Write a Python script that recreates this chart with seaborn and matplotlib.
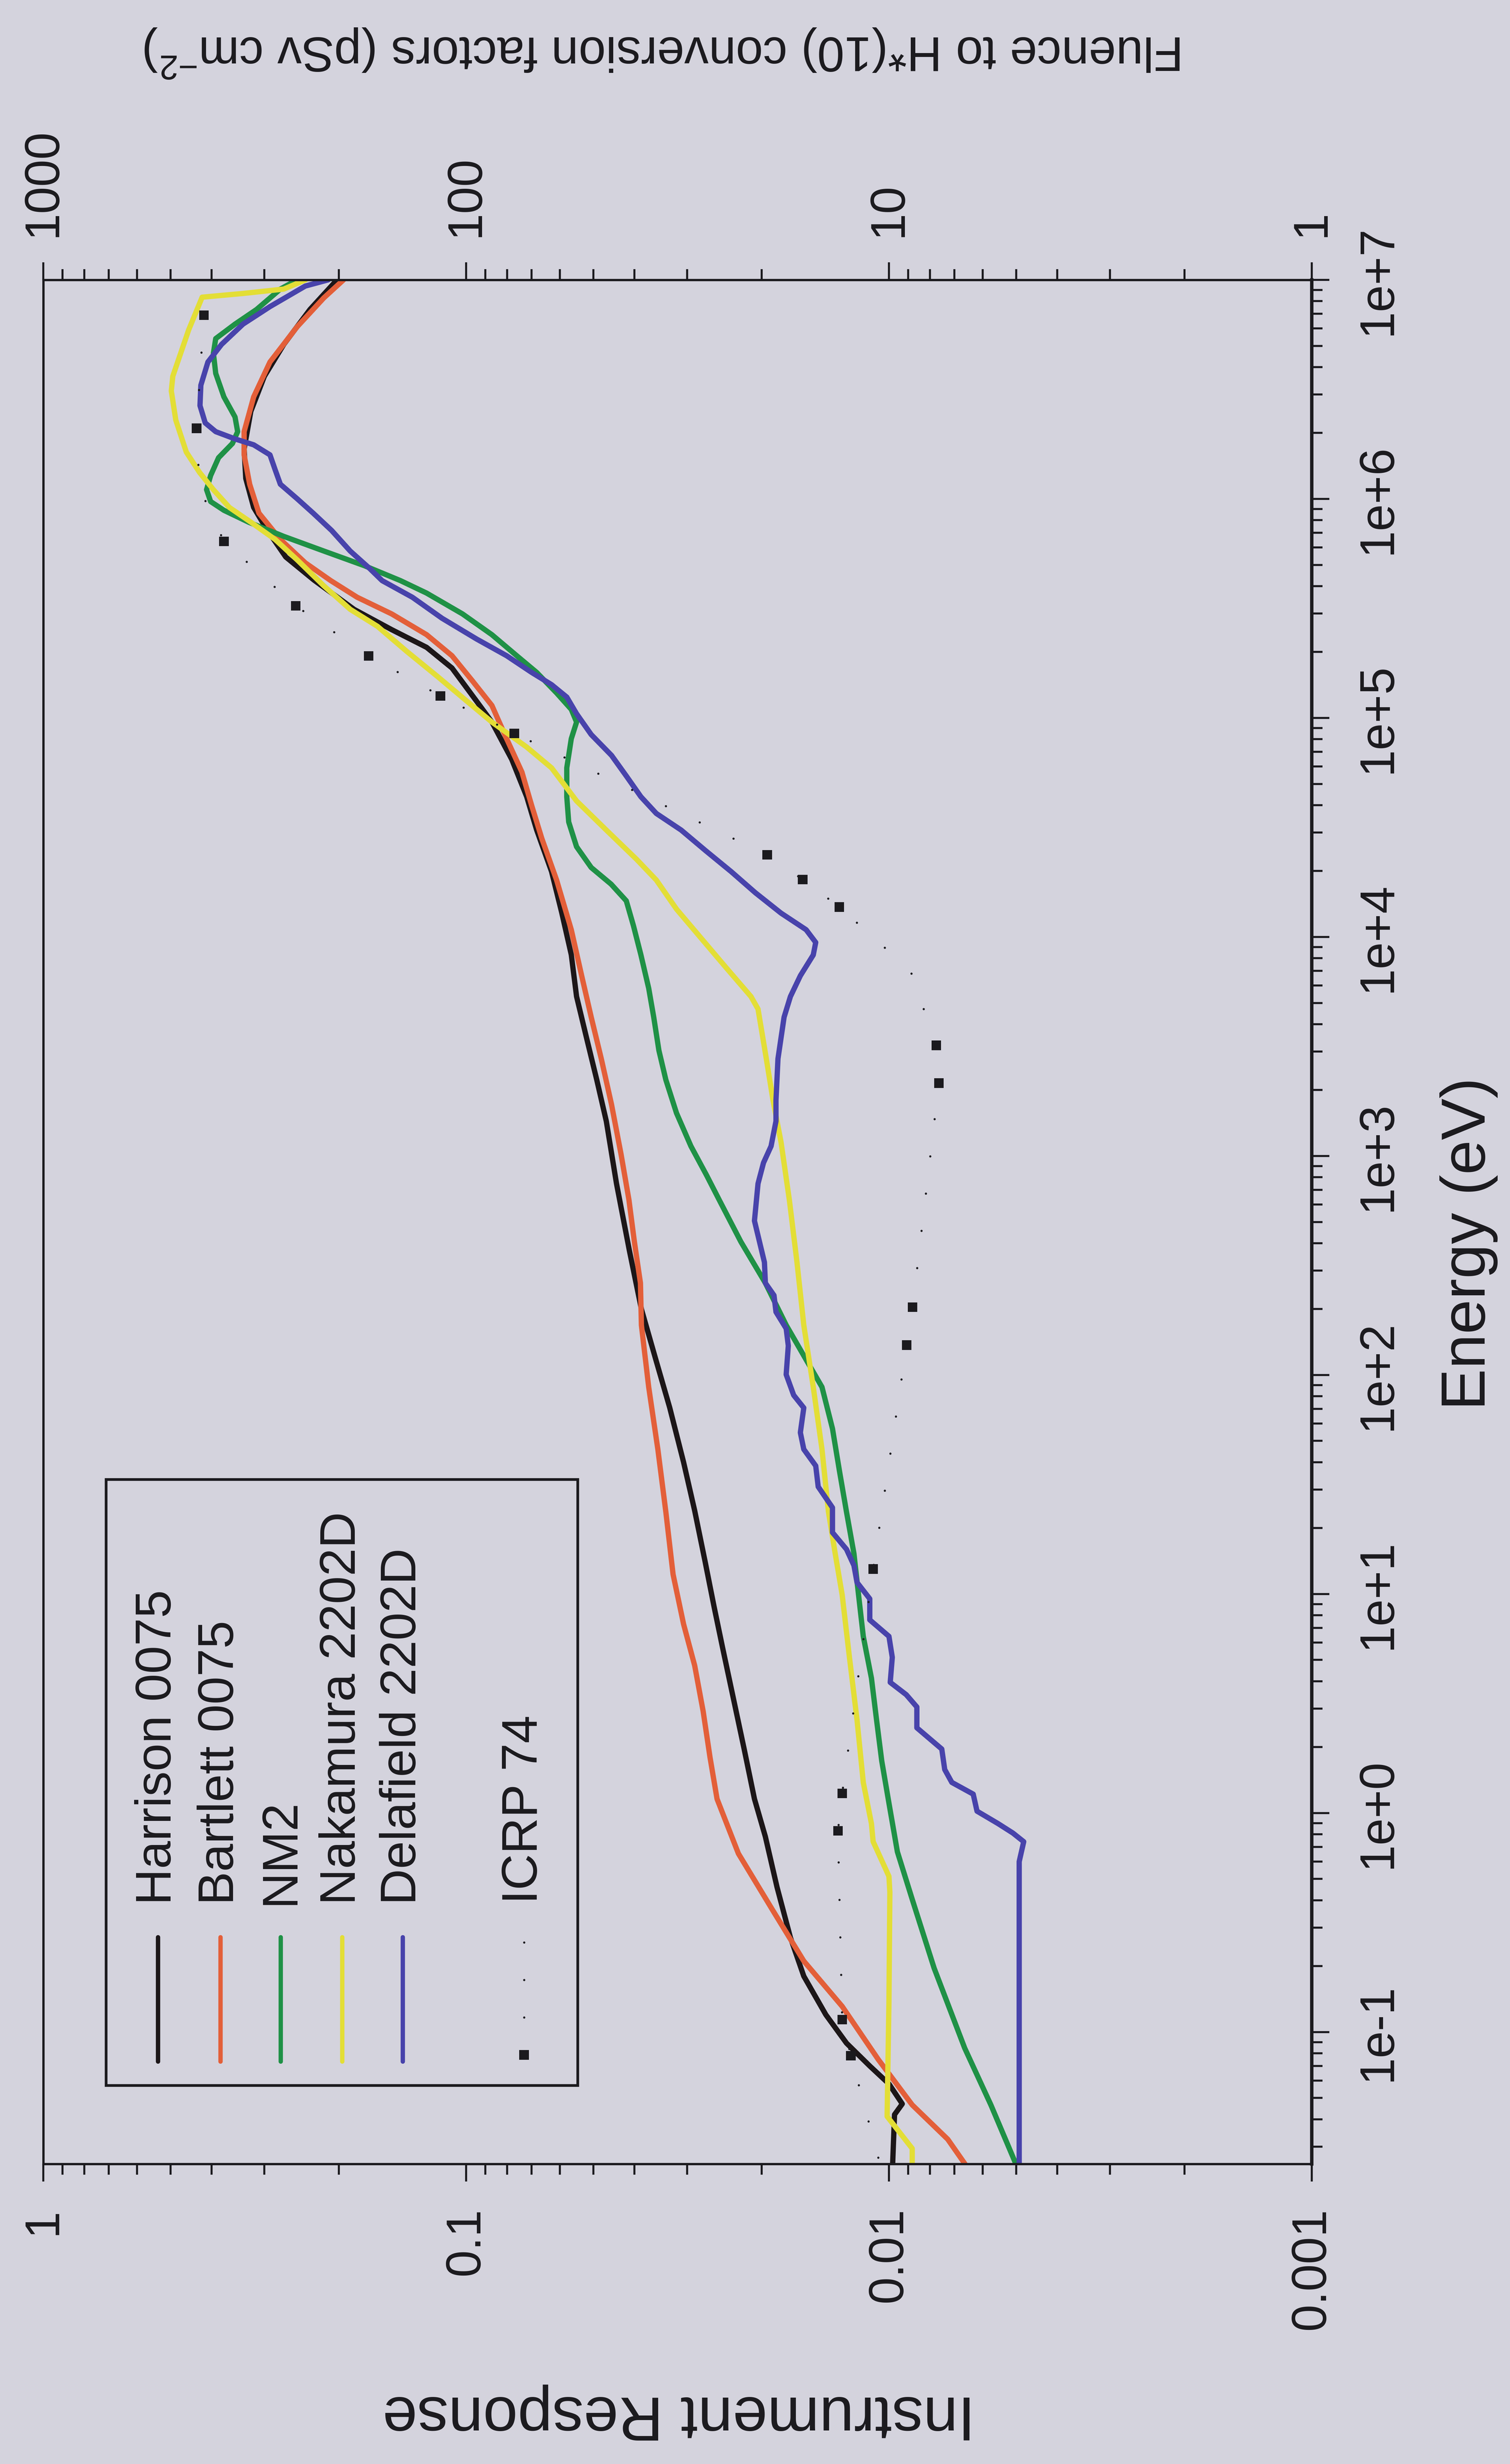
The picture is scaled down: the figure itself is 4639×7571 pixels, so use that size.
import numpy as np
import pandas as pd
import matplotlib
matplotlib.use("Agg")
import matplotlib.pyplot as plt
from matplotlib.ticker import FixedLocator, FuncFormatter, NullFormatter
from matplotlib.lines import Line2D
from matplotlib.patches import Rectangle
import seaborn as sns

# ---- data (energy in eV, response dimensionless) ----
harrison_energy = [0.025, 0.042, 0.047, 0.058, 0.07, 0.089, 0.12, 0.18, 0.27, 0.46,
                   0.78, 1.16, 1.96, 3.3, 5.6, 8.7, 14, 24, 40, 71,
                   120, 200, 370, 750, 1440, 2230, 3460, 5350, 8300, 12900,
                   19900, 30800, 43700, 64700, 95700, 119000, 169000, 210000, 253000, 313000,
                   426000, 543000, 718000, 914000, 1.24e6, 1.69e6, 2.51e6, 3.63e6, 5.07e6, 7.33e6,
                   1e7]
harrison_response = [0.0098, 0.0097, 0.0093, 0.0100, 0.0111, 0.0126, 0.0141, 0.0159, 0.0171, 0.0184,
                     0.0196, 0.0208, 0.0220, 0.0233, 0.0247, 0.0259, 0.0272, 0.0288, 0.0306, 0.0330,
                     0.0357, 0.0385, 0.0411, 0.0441, 0.0466, 0.0491, 0.0519, 0.0548, 0.0564, 0.0594,
                     0.0628, 0.0681, 0.0719, 0.0780, 0.0869, 0.0944, 0.108, 0.124, 0.150, 0.184,
                     0.229, 0.267, 0.295, 0.318, 0.332, 0.335, 0.323, 0.300, 0.270, 0.234,
                     0.202]

bartlett_energy = [0.025, 0.0324, 0.0465, 0.075, 0.131, 0.211, 0.358, 0.653, 1.16, 1.80,
                   2.91, 4.71, 7.29, 12.3, 23.7, 45.8, 88.1, 169, 263, 406,
                   630, 1016, 1718, 2780, 4305, 6653, 10790, 18200, 28120, 39900,
                   56620, 80350, 114000, 148300, 192300, 239900, 298500, 355600, 423600, 510500,
                   653100, 861000, 1.167e6, 1.589e6, 2.028e6, 2.924e6, 4.217e6, 6.109e6, 8.279e6, 1e7]
bartlett_response = [0.00661, 0.00726, 0.00881, 0.0106, 0.0129, 0.0159, 0.0188, 0.0227, 0.0255, 0.0265,
                     0.0275, 0.0288, 0.0306, 0.0324, 0.0337, 0.0352, 0.0370, 0.0385, 0.0387, 0.0400,
                     0.0412, 0.0430, 0.0453, 0.0479, 0.0506, 0.0533, 0.0564, 0.0611, 0.0662, 0.0700,
                     0.0738, 0.0802, 0.0869, 0.0968, 0.108, 0.124, 0.150, 0.181, 0.209, 0.240,
                     0.275, 0.309, 0.325, 0.335, 0.335, 0.318, 0.291, 0.251, 0.217, 0.195]

nm2_energy = [0.025, 0.0465, 0.0845, 0.196, 0.404, 0.665, 1.11, 1.73, 2.67, 4.13,
              6.41, 9.91, 15.3, 23.7, 36.7, 56.9, 88.1, 115, 169, 263,
              406, 630, 817, 1109, 1570, 2228, 3034, 4305, 5834, 8279,
              11250, 14620, 17420, 20750, 25820, 33500, 43650, 59160, 80350, 95720,
              109400, 130000, 161400, 192300, 239900, 298500, 371500, 423600, 495500, 578100,
              674500, 783400, 887200, 972800, 1.102e6, 1.279e6, 1.542e6, 1.791e6, 2.028e6, 2.366e6,
              2.924e6, 3.741e6, 4.624e6, 5.395e6, 6.281e6, 7.328e6, 9.078e6, 1e7]
nm2_response = [0.00501, 0.00574, 0.00662, 0.00782, 0.00881, 0.00955, 0.0100, 0.0104, 0.0107, 0.0110,
                0.0115, 0.0118, 0.0121, 0.0126, 0.0131, 0.0136, 0.0144, 0.0156, 0.0175, 0.0196,
                0.0224, 0.0252, 0.0270, 0.0294, 0.0318, 0.0337, 0.0350, 0.0360, 0.0370, 0.0386,
                0.0402, 0.0418, 0.0454, 0.0506, 0.0548, 0.0572, 0.0578, 0.0578, 0.0564, 0.0548,
                0.0564, 0.0611, 0.0681, 0.0759, 0.0869, 0.102, 0.124, 0.143, 0.174, 0.217,
                0.270, 0.327, 0.374, 0.402, 0.411, 0.402, 0.385, 0.357, 0.347, 0.352,
                0.374, 0.391, 0.396, 0.391, 0.352, 0.313, 0.275, 0.251]

nakamura_energy = [0.025, 0.0294, 0.0412, 0.137, 0.435, 0.514, 0.741, 0.895, 1.38, 2.67,
                   5.14, 9.91, 15.3, 23.7, 45.8, 88.1, 169, 327, 630, 1159,
                   1795, 2780, 4688, 5346, 7261, 9863, 13400, 18200, 22590, 30760,
                   41780, 59160, 73620, 95720, 119100, 154900, 200900, 261800, 313300, 400900,
                   527200, 653100, 783400, 914100, 1.102e6, 1.321e6, 1.637e6, 2.291e6, 3.112e6, 3.631e6,
                   5.916e6, 8.337e6, 8.670e6, 9.078e6, 1e7]
nakamura_response = [0.00881, 0.00881, 0.0101, 0.0100, 0.00995, 0.0100, 0.0109, 0.0110, 0.0115, 0.0119,
                     0.0124, 0.0129, 0.0134, 0.0139, 0.0144, 0.0151, 0.0159, 0.0165, 0.0172, 0.0180,
                     0.0188, 0.0195, 0.0204, 0.0212, 0.0243, 0.0278, 0.0318, 0.0355, 0.0395, 0.0466,
                     0.0548, 0.0628, 0.0719, 0.0869, 0.0995, 0.117, 0.138, 0.162, 0.188, 0.217,
                     0.251, 0.283, 0.323, 0.363, 0.396, 0.427, 0.459, 0.486, 0.498, 0.494,
                     0.453, 0.421, 0.337, 0.270, 0.240]

delafield_energy = [0.025, 0.60, 0.74, 0.81, 0.895, 1.02, 1.22, 1.38, 1.58, 1.96,
                    2.45, 3.05, 3.47, 3.95, 5.14, 6.41, 7.62, 9.51, 11.3, 13.5,
                    16.0, 19.1, 24.8, 30.9, 38.5, 45.8, 54.6, 70.8, 80.9, 100.5,
                    136, 163, 194, 231, 263, 327, 506, 748, 931, 1109,
                    1442, 1795, 2780, 4305, 5346, 6653, 8279, 9441, 10790, 12850,
                    15920, 19860, 24720, 30760, 36640, 43650, 54330, 67450, 83950, 104500,
                    124500, 141900, 161400, 192300, 229100, 285100, 355600, 423600, 480800, 578100,
                    717800, 861000, 1.002e6, 1.167e6, 1.361e6, 1.589e6, 1.766e6, 1.879e6, 2.028e6, 2.223e6,
                    2.667e6, 3.304e6, 4.217e6, 5.070e6, 6.281e6, 7.551e6, 9.376e6, 1e7]
delafield_response = [0.00492, 0.00492, 0.00480, 0.00509, 0.00552, 0.00619, 0.00632, 0.00710, 0.00738, 0.00750,
                      0.00859, 0.00859, 0.00910, 0.00993, 0.00982, 0.0100, 0.0111, 0.0111, 0.0119, 0.0121,
                      0.0126, 0.0136, 0.0136, 0.0147, 0.0149, 0.0159, 0.0162, 0.0159, 0.0168, 0.0175,
                      0.0173, 0.0175, 0.0185, 0.0187, 0.0196, 0.0197, 0.0208, 0.0204, 0.0198, 0.0190,
                      0.0185, 0.0185, 0.0183, 0.0177, 0.0171, 0.0162, 0.0151, 0.0149, 0.0157, 0.0180,
                      0.0207, 0.0236, 0.0271, 0.0310, 0.0355, 0.0386, 0.0418, 0.0453, 0.0506, 0.0548,
                      0.0578, 0.0628, 0.0700, 0.0802, 0.0944, 0.114, 0.134, 0.158, 0.169, 0.188,
                      0.208, 0.230, 0.251, 0.275, 0.283, 0.291, 0.318, 0.352, 0.391, 0.414,
                      0.426, 0.424, 0.408, 0.379, 0.337, 0.291, 0.240, 0.212]

# ICRP 74 fluence to H*(10) conversion factors (pSv cm^2), dotted line + square symbols
icrp_energy = [6.9e6, 2.1e6, 1.12e6, 6.4e5, 3.25e5, 1.92e5, 1.26e5, 8.5e4, 2.37e4, 1.83e4,
               1.37e4, 7.0e3, 3.2e3, 2.15e3, 204, 137, 13.0, 1.23, 0.83, 0.114,
               0.078, 0.025]
icrp_fluence = [417, 434, 427, 374, 253, 170, 115, 76.9, 19.4, 16.0,
                13.1, 8.89, 7.73, 7.62, 8.79, 9.08, 10.9, 12.9, 13.2, 12.9,
                12.3, 10.5]
icrp_symbol = [True, True, False, True, True, True, True, True, True, True,
               True, False, True, True, True, True, True, True, True, True,
               True, False]

series_names = ["Harrison 0075", "Bartlett 0075", "NM2", "Nakamura 2202D", "Delafield 2202D"]
series_colors = ["#1c1618", "#e35f39", "#1f9146", "#e3de36", "#4843ab"]
series_data = [(harrison_energy, harrison_response), (bartlett_energy, bartlett_response),
               (nm2_energy, nm2_response), (nakamura_energy, nakamura_response),
               (delafield_energy, delafield_response)]

# axis ranges and labelled ticks
energy_range = (0.025, 1e7)
response_range = (1, 0.001)
fluence_range = (1000, 1)
energy_ticks = [1e-1, 1e0, 1e1, 1e2, 1e3, 1e4, 1e5, 1e6, 1e7]
response_ticks = [1, 0.1, 0.01, 0.001]
fluence_ticks = [1000, 100, 10, 1]

BG = "#d4d3dd"
INK = "#1b1a1e"

sns.set_theme(style="ticks")
plt.rcParams["font.family"] = ["Liberation Sans", "DejaVu Sans"]
plt.rcParams["mathtext.fontset"] = "custom"
plt.rcParams["mathtext.rm"] = "Liberation Sans"
plt.rcParams["mathtext.default"] = "regular"
plt.rcParams["lines.scale_dashes"] = False
plt.rcParams["text.color"] = INK


def log_minor(lo, hi):
    # 2..9 subdivisions of each decade, kept inside the axis range
    lo, hi = min(lo, hi), max(lo, hi)
    out = []
    for k in range(int(np.floor(np.log10(lo))), int(np.ceil(np.log10(hi))) + 1):
        for m in range(2, 10):
            v = m * 10.0 ** k
            if lo <= v <= hi:
                out.append(v)
    return out


W, H, DPI = 4639, 7572, 300
# plot frame in pixels (the page is printed sideways)
X0, X1, Y0, Y1 = 133, 4030, 861, 6650

fig = plt.figure(figsize=(W / DPI, H / DPI), dpi=DPI, facecolor=BG)
ax = fig.add_axes([X0 / W, 1 - Y1 / H, (X1 - X0) / W, (Y1 - Y0) / H])
ax.set_facecolor(BG)
ax.set_xscale("log")
ax.set_yscale("log")

for (e, r), color in zip(series_data, series_colors):
    df = pd.DataFrame({"energy": e, "response": r})
    sns.lineplot(data=df, x="response", y="energy", sort=False, estimator=None,
                 color=color, linewidth=3.9, ax=ax)

ax.set_xlim(*response_range)
ax.set_ylim(*energy_range)

# fluence axis on top
ax2 = ax.twiny()
ax2.set_xscale("log")
icrp = pd.DataFrame({"energy": icrp_energy, "fluence": icrp_fluence, "symbol": icrp_symbol})
sns.lineplot(data=icrp, x="fluence", y="energy", sort=False, estimator=None, color=INK,
             linewidth=1.6, linestyle=(0, (0.05, 27.6)), dash_capstyle="round", ax=ax2)
sns.scatterplot(data=icrp[icrp["symbol"]], x="fluence", y="energy", marker="s", s=50,
                color=INK, edgecolor="none", linewidth=0, ax=ax2, zorder=5)
ax2.set_xlim(*fluence_range)
ax2.set_ylim(*energy_range)

for a in (ax, ax2):
    a.set_xlabel("")
    a.set_ylabel("")
    a.xaxis.label.set_visible(False)
    a.yaxis.label.set_visible(False)

fmt_plain = FuncFormatter(lambda v, _: f"{v:g}")
fmt_exp = FuncFormatter(lambda v, _: f"1e{int(round(np.log10(v))):+d}")

ax.xaxis.set_major_locator(FixedLocator(response_ticks))
ax.xaxis.set_minor_locator(FixedLocator(log_minor(*response_range)))
ax2.xaxis.set_major_locator(FixedLocator(fluence_ticks))
ax2.xaxis.set_minor_locator(FixedLocator(log_minor(*fluence_range)))
ax.yaxis.set_major_locator(FixedLocator(energy_ticks))
ax.yaxis.set_minor_locator(FixedLocator(log_minor(*energy_range)))
for a in (ax, ax2):
    a.xaxis.set_major_formatter(fmt_plain)
    a.xaxis.set_minor_formatter(NullFormatter())
ax.yaxis.set_major_formatter(fmt_exp)
ax.yaxis.set_minor_formatter(NullFormatter())

ax.tick_params(axis="x", which="both", bottom=True, top=False, labelbottom=True, labeltop=False)
ax.tick_params(axis="y", which="both", left=False, right=True, labelleft=False, labelright=True)
ax2.tick_params(axis="x", which="both", bottom=False, top=True, labelbottom=False, labeltop=True)
for a in (ax, ax2):
    a.tick_params(which="both", direction="out", width=1.5, color=INK, labelcolor=INK)
    a.tick_params(which="major", length=13, pad=19, labelsize=36)
    a.tick_params(which="minor", length=8)
ax.tick_params(axis="x", labelrotation=90)
ax.tick_params(axis="y", labelrotation=90)
ax2.tick_params(axis="x", labelrotation=90)
plt.setp(ax.get_yticklabels(), va="center", ha="left")

ax.spines["top"].set_visible(False)
for side in ("left", "bottom"):
    ax.spines[side].set_linewidth(1.7)
    ax.spines[side].set_color(INK)
ax.spines["right"].set_linewidth(2.5)
ax.spines["right"].set_color(INK)
for side in ("left", "right", "bottom"):
    ax2.spines[side].set_visible(False)
ax2.spines["top"].set_linewidth(1.7)
ax2.spines["top"].set_color(INK)

# axis titles (page is rotated a quarter turn)
fig.text(2086 / W, 1 - 7415 / H, "Instrument Response", rotation=180,
         ha="center", va="center", fontsize=46)
fig.text(4512 / W, 1 - 3822 / H, "Energy (eV)", rotation=90,
         ha="center", va="center", fontsize=46)
fig.text(2040 / W, 1 - 162 / H, r"Fluence to H*(10) conversion factors (pSv cm$^{-2}$)",
         rotation=180, ha="center", va="center", fontsize=36)

# legend, drawn by hand so it can be turned with the page
def axx(px):
    return (px - X0) / (X1 - X0)

def axy(py):
    return (Y1 - py) / (Y1 - Y0)

ax.add_patch(Rectangle((axx(326), axy(6409)), axx(1775) - axx(326), axy(4547) - axy(6409),
                       transform=ax.transAxes, fill=False, edgecolor=INK, linewidth=2, zorder=6))
legend_x = [485, 677, 862, 1051, 1237]
for px, name, color in zip(legend_x, series_names, series_colors):
    ax.add_artist(Line2D([axx(px), axx(px)], [axy(6335), axy(5953)], transform=ax.transAxes,
                         color=color, linewidth=3.2, zorder=6))
    ax.text(axx(px), axy(5853), name, rotation=90, ha="center", va="bottom",
            transform=ax.transAxes, fontsize=37, zorder=6)
icrp_x = 1610
ax.add_artist(Line2D([axx(icrp_x), axx(icrp_x)], [axy(6315), axy(5953)], transform=ax.transAxes,
                     color=INK, linewidth=1.6, linestyle=(0, (0.05, 27.6)),
                     dash_capstyle="round", zorder=6))
ax.add_artist(Line2D([axx(icrp_x)], [axy(6315)], transform=ax.transAxes, marker="s",
                     markersize=7, color=INK, markeredgewidth=0, linestyle="none", zorder=6))
ax.text(axx(icrp_x), axy(5850), "ICRP 74", rotation=90, ha="center", va="bottom",
        transform=ax.transAxes, fontsize=37, zorder=6)

fig.savefig("out.png", dpi=DPI, facecolor=BG)
